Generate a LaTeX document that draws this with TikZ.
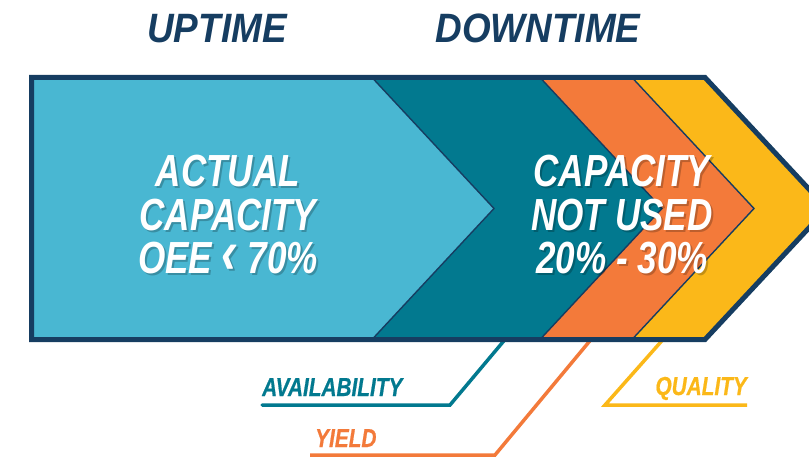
\documentclass[tikz,border=0pt]{standalone}
\usepackage{fontspec}
\newfontfamily\condfont[FakeStretch=0.78]{Liberation Sans}
\newfontfamily\tagfont[FakeStretch=0.8,FakeBold=0.6]{Liberation Sans}
\newfontfamily\headfont[FakeStretch=0.9]{Liberation Sans}
\usetikzlibrary{calc}
\definecolor{navy}{HTML}{163D61}
\definecolor{skyblue}{HTML}{49B7D2}
\definecolor{petrol}{HTML}{02798F}
\definecolor{tangerine}{HTML}{F37A3A}
\definecolor{amber}{HTML}{FBB819}
\newcommand{\lessmark}{{\fontsize{62}{43.5}\selectfont ‹}}
\tikzset{
	chevron/.style={draw=navy,line width=1.4pt},
	outerframe/.style={draw=navy,line width=5pt,line join=miter},
	heading/.style={font=\headfont\fontsize{41}{41}\selectfont\bfseries\itshape,text=navy,inner sep=0pt,anchor=base},
	bigtext/.style={font=\condfont\fontsize{45}{43.5}\selectfont\bfseries\itshape,text=white,align=center,inner sep=0pt},
	txtshade/.style={text=black,text opacity=0.22},
	tag/.style={font=\tagfont\fontsize{26}{26}\selectfont\bfseries\itshape,inner sep=0pt},
	leader/.style={line width=3.5pt}
	}
\begin{document}
\begin{tikzpicture}[x=1pt,y=-1pt]
	\useasboundingbox (0,0) rectangle (809,457);
	\clip (0,0) rectangle (809,457);
	\node[heading] (uptime) at (217,43) {UPTIME};
	\node[heading] (downtime) at (538,43) {DOWNTIME};
	% chevrons, back to front
	\foreach \c/\x in {amber/705,tangerine/632,petrol/540,skyblue/372}
		\filldraw[chevron,fill=\c] (31.5,77.5) -- (\x,77.5) -- ({\x+122},208.5) -- (\x,339.5) -- (31.5,339.5) -- cycle;
	\node[bigtext,txtshade] at (230,217) {ACTUAL\\CAPACITY\\OEE \lessmark{} 70\%};
	\node[bigtext] (actual) at (228,215) {ACTUAL\\CAPACITY\\OEE \lessmark{} 70\%};
	\node[bigtext,txtshade] at (624,217) {CAPACITY\\NOT USED\\20\% - 30\%};
	\node[bigtext] (notused) at (622,215) {CAPACITY\\NOT USED\\20\% - 30\%};
	% leaders
	\node[tag,text=petrol,anchor=base west] (avail) at (262,396) {AVAILABILITY};
	\node[tag,text=tangerine,anchor=base west] (yield) at (315,447) {YIELD};
	\node[tag,text=amber,anchor=base east] (quality) at (747,395) {QUALITY};
	\coordinate (avail-top) at (505,339.5);
	\coordinate (avail-bend) at (450,405);
	\coordinate (avail-end) at (262,405);
	\coordinate (yield-top) at (591,339.5);
	\coordinate (yield-bend) at (495,455);
	\coordinate (yield-end) at (310,455);
	\coordinate (quality-top) at (663,339.5);
	\coordinate (quality-bend) at (605,405);
	\coordinate (quality-end) at (747,405);
	\draw[leader,petrol,line cap=round] (avail-top) -- (avail-bend) -- (avail-end);
	\draw[leader,tangerine] (yield-top) -- (yield-bend) -- (yield-end);
	\draw[leader,amber] (quality-top) -- (quality-bend) -- (quality-end);
	\draw[outerframe] (31.5,77.5) -- (705,77.5) -- (827,208.5) -- (705,339.5) -- (31.5,339.5) -- cycle;
\end{tikzpicture}
\end{document}
